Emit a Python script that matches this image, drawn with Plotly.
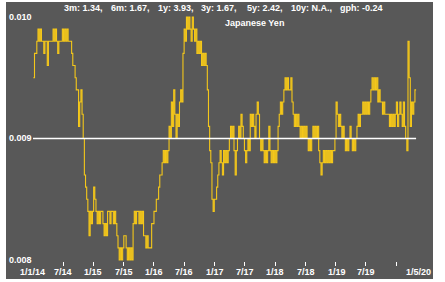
import pandas as pd
import plotly.graph_objects as go

# weekly Japanese Yen rate (USD per JPY)
rate = [
    0.0095, 0.0097, 0.0097, 0.0098, 0.0099, 0.0098, 0.0099, 0.0098, 0.0098, 0.0097,
    0.0098, 0.0098, 0.0096, 0.0098, 0.0098, 0.0098, 0.0098, 0.0099, 0.0098, 0.0099,
    0.0098, 0.0097, 0.0098, 0.0098, 0.0098, 0.0099, 0.0098, 0.0099, 0.0098, 0.0099,
    0.0098, 0.0098, 0.0098, 0.0097, 0.0096, 0.0096, 0.0095, 0.0094, 0.0094, 0.0091,
    0.0093, 0.0094, 0.0092, 0.0090, 0.0087, 0.0086, 0.0085, 0.0084, 0.0082, 0.0084,
    0.0083, 0.0084, 0.0086, 0.0085, 0.0084, 0.0083, 0.0084, 0.0083, 0.0084, 0.0084,
    0.0083, 0.0082, 0.0083, 0.0082, 0.0084, 0.0084, 0.0083, 0.0084, 0.0084, 0.0083,
    0.0084, 0.0083, 0.0082, 0.0081, 0.0080, 0.0081, 0.0080, 0.0081, 0.0082, 0.0082,
    0.0081, 0.0080, 0.0081, 0.0080, 0.0081, 0.0080, 0.0083, 0.0084, 0.0083, 0.0084,
    0.0084, 0.0083, 0.0084, 0.0083, 0.0084, 0.0082, 0.0082, 0.0081, 0.0082, 0.0081,
    0.0081, 0.0081, 0.0083, 0.0083, 0.0084, 0.0084, 0.0085, 0.0085, 0.0086, 0.0087,
    0.0087, 0.0088, 0.0089, 0.0088, 0.0089, 0.0088, 0.0089, 0.0091, 0.0090, 0.0093,
    0.0091, 0.0094, 0.0092, 0.0090, 0.0092, 0.0091, 0.0093, 0.0094, 0.0093, 0.0097,
    0.0099, 0.0098, 0.0100, 0.0099, 0.0100, 0.0099, 0.0098, 0.0100, 0.0099, 0.0098,
    0.0099, 0.0097, 0.0098, 0.0097, 0.0098, 0.0096, 0.0097, 0.0096, 0.0097, 0.0096,
    0.0094, 0.0091, 0.0089, 0.0088, 0.0085, 0.0084, 0.0085, 0.0085, 0.0086, 0.0087,
    0.0088, 0.0089, 0.0088, 0.0087, 0.0089, 0.0088, 0.0089, 0.0088, 0.0089, 0.0090,
    0.0091, 0.0090, 0.0091, 0.0089, 0.0087, 0.0089, 0.0090, 0.0091, 0.0090, 0.0092,
    0.0091, 0.0090, 0.0089, 0.0088, 0.0089, 0.0090, 0.0089, 0.0092, 0.0091, 0.0092,
    0.0091, 0.0090, 0.0092, 0.0093, 0.0092, 0.0090, 0.0089, 0.0090, 0.0089, 0.0088,
    0.0089, 0.0088, 0.0089, 0.0091, 0.0089, 0.0088, 0.0089, 0.0088, 0.0089, 0.0088,
    0.0089, 0.0091, 0.0092, 0.0093, 0.0092, 0.0093, 0.0094, 0.0095, 0.0094, 0.0095,
    0.0094, 0.0094, 0.0095, 0.0093, 0.0092, 0.0091, 0.0092, 0.0091, 0.0092, 0.0091,
    0.0090, 0.0091, 0.0090, 0.0091, 0.0090, 0.0091, 0.0090, 0.0089, 0.0090, 0.0089,
    0.0090, 0.0091, 0.0090, 0.0091, 0.0090, 0.0091, 0.0089, 0.0088, 0.0087, 0.0088,
    0.0089, 0.0088, 0.0089, 0.0088, 0.0089, 0.0088, 0.0089, 0.0088, 0.0089, 0.0089,
    0.0090, 0.0093, 0.0092, 0.0091, 0.0092, 0.0091, 0.0090, 0.0091, 0.0090, 0.0089,
    0.0090, 0.0089, 0.0090, 0.0091, 0.0090, 0.0089, 0.0090, 0.0089, 0.0090, 0.0091,
    0.0092, 0.0091, 0.0092, 0.0092, 0.0093, 0.0092, 0.0093, 0.0092, 0.0093, 0.0092,
    0.0093, 0.0094, 0.0095, 0.0094, 0.0095, 0.0094, 0.0095, 0.0093, 0.0094, 0.0093,
    0.0093, 0.0092, 0.0093, 0.0092, 0.0092, 0.0092, 0.0092, 0.0091, 0.0092, 0.0091,
    0.0092, 0.0091, 0.0092, 0.0093, 0.0091, 0.0092, 0.0093, 0.0092, 0.0091, 0.0093,
    0.0091, 0.0090, 0.0089, 0.0098, 0.0095, 0.0091, 0.0093, 0.0092, 0.0093, 0.0094,
    0.0094,
]
end_date = "2020-05-01"
dates = pd.date_range(end=end_date, periods=len(rate), freq="7D")

ref_level = 0.009
ref_start = "2014-01-01"

tick_dates = ["2014-07-01", "2015-01-01", "2015-07-01", "2016-01-01", "2016-07-01",
              "2017-01-01", "2017-07-01", "2018-01-01", "2018-07-01", "2019-01-01",
              "2019-07-01", "2020-01-01"]
label_dates = ["2014-01-01", "2014-07-01", "2015-01-01", "2015-07-01", "2016-01-01",
               "2016-07-01", "2017-01-01", "2017-07-01", "2018-01-01", "2018-07-01",
               "2019-01-01", "2019-07-01", "2020-05-01"]
label_text = ["1/1/14", "7/14", "1/15", "7/15", "1/16", "7/16", "1/17", "7/17",
              "1/18", "7/18", "1/19", "7/19", "1/5/20"]
label_shift = [-1, 0, 0, 1, 0, 0, 0, 0, 0, 1, 1, 0, 2]

y_ticks = [0.010, 0.009, 0.008]
y_text = ["0.010", "0.009", "0.008"]

stats_text = ["3m: 1.34,", "6m: 1.67,", "1y: 3.93,", "3y: 1.67,", "5y: 2.42,",
              "10y: N.A.,", "gph: -0.24"]
stats_px = [62, 109, 156, 199, 245, 289, 338]
title = "Japanese Yen"

W, H = 445, 282
ML, MR, MT, MB = 6, 12, 2, 3
PW, PH = W - ML - MR, H - MT - MB
BG = "#585858"
YEL = "#F4C71A"
FONT = dict(family="Liberation Sans, Arial, sans-serif", size=9, color="white", weight="bold")

def px_x(px):
    return (px - ML) / PW

def px_y(py):
    return (H - MB - py) / PH

fig = go.Figure()
fig.add_trace(go.Scatter(x=[ref_start, end_date], y=[ref_level, ref_level], mode="lines",
                         line=dict(color="white", width=1.3), xaxis="x2", hoverinfo="skip"))
fig.add_trace(go.Scatter(x=dates, y=rate, mode="lines",
                         line=dict(color=YEL, width=1.1, shape="hv"), hoverinfo="skip"))

ann = []
for t, p in zip(stats_text, stats_px):
    ann.append(dict(text=t, x=px_x(p), y=px_y(8), xref="paper", yref="paper",
                    xanchor="left", yanchor="middle", showarrow=False, font=FONT))
ann.append(dict(text=title, x=px_x(254), y=px_y(23), xref="paper", yref="paper",
                xanchor="center", yanchor="middle", showarrow=False, font=FONT))
for v, t in zip(y_ticks, y_text):
    ann.append(dict(text=t, x=px_x(7), y=v, xref="paper", yref="y",
                    xanchor="left", yanchor="middle", showarrow=False, font=FONT))
for d, t, s in zip(label_dates, label_text, label_shift):
    ann.append(dict(text=t, x=d, y=px_y(272), xref="x", yref="paper", xshift=s,
                    xanchor="center", yanchor="middle", showarrow=False, font=FONT))

xr = ["2013-07-22", "2020-08-11"]
fig.update_layout(
    width=W, height=H, margin=dict(l=ML, r=MR, t=MT, b=MB),
    paper_bgcolor="white", plot_bgcolor=BG, showlegend=False,
    xaxis=dict(type="date", range=xr, showgrid=False, zeroline=False, showline=False,
               showticklabels=False, ticks=""),
    xaxis2=dict(type="date", range=xr, overlaying="x", anchor="free", position=px_y(266),
                side="bottom", showgrid=False, zeroline=False, showline=False,
                showticklabels=False, ticks="inside", ticklen=4, tickwidth=1,
                tickcolor="white", tickvals=tick_dates),
    yaxis=dict(range=[0.007844, 0.010123], showgrid=False, zeroline=False, showline=False,
               showticklabels=False, ticks=""),
    annotations=ann,
)
fig.write_html("out.html")
